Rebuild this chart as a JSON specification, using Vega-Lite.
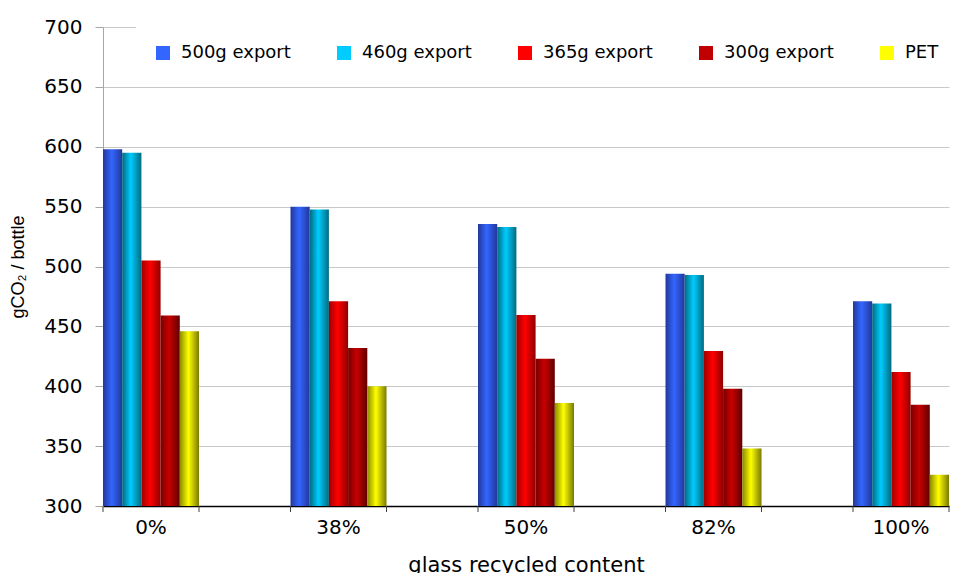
{
  "$schema": "https://vega.github.io/schema/vega-lite/v6.json",
  "width": 846,
  "height": 479,
  "autosize": "none",
  "padding": {"left": 103, "top": 27, "right": 5, "bottom": 67},
  "background": "white",
  "config": {
    "view": {"stroke": null},
    "axis": {"labelFont": "DejaVu Sans", "labelFontSize": 20, "labelColor": "#000000"}
  },
  "datasets": {
    "emissions": [
      {"content": "0%", "series": "500g export", "gco2": 598},
      {"content": "0%", "series": "460g export", "gco2": 595},
      {"content": "0%", "series": "365g export", "gco2": 505},
      {"content": "0%", "series": "300g export", "gco2": 459},
      {"content": "0%", "series": "PET", "gco2": 446},
      {"content": "38%", "series": "500g export", "gco2": 550},
      {"content": "38%", "series": "460g export", "gco2": 547.5},
      {"content": "38%", "series": "365g export", "gco2": 471},
      {"content": "38%", "series": "300g export", "gco2": 432},
      {"content": "38%", "series": "PET", "gco2": 400},
      {"content": "50%", "series": "500g export", "gco2": 535.5},
      {"content": "50%", "series": "460g export", "gco2": 533},
      {"content": "50%", "series": "365g export", "gco2": 459.5},
      {"content": "50%", "series": "300g export", "gco2": 423},
      {"content": "50%", "series": "PET", "gco2": 386},
      {"content": "82%", "series": "500g export", "gco2": 494},
      {"content": "82%", "series": "460g export", "gco2": 493},
      {"content": "82%", "series": "365g export", "gco2": 429.5},
      {"content": "82%", "series": "300g export", "gco2": 398},
      {"content": "82%", "series": "PET", "gco2": 348},
      {"content": "100%", "series": "500g export", "gco2": 471},
      {"content": "100%", "series": "460g export", "gco2": 469},
      {"content": "100%", "series": "365g export", "gco2": 412},
      {"content": "100%", "series": "300g export", "gco2": 384.5},
      {"content": "100%", "series": "PET", "gco2": 326}
    ],
    "groups": [
      {"content": "0%"}, {"content": "38%"}, {"content": "50%"}, {"content": "82%"}, {"content": "100%"}
    ]
  },
  "layer": [
    {
      "data": {"name": "emissions"},
      "mark": {"type": "bar", "clip": true},
      "encoding": {
        "x": {
          "field": "content", "type": "nominal",
          "sort": ["0%", "38%", "50%", "82%", "100%"],
          "scale": {"paddingInner": 0.488, "paddingOuter": 0},
          "axis": {
            "title": "glass recycled content",
            "titleFont": "DejaVu Sans", "titleFontSize": 21, "titleFontWeight": "normal",
            "titleColor": "#000000", "titlePadding": 17,
            "labelAngle": 0, "labelPadding": 11,
            "ticks": false, "domainColor": "#000000", "domainWidth": 1.5,
            "grid": false
          }
        },
        "xOffset": {
          "field": "series", "type": "nominal",
          "sort": ["500g export", "460g export", "365g export", "300g export", "PET"]
        },
        "y": {
          "field": "gco2", "type": "quantitative",
          "scale": {"domain": [300, 700], "nice": false, "zero": false},
          "axis": {
            "title": "gCO₂ / bottle",
            "titleFont": "Liberation Sans", "titleFontSize": 18, "titleFontWeight": "normal",
            "titleColor": "#000000", "titlePadding": 16,
            "values": [300, 350, 400, 450, 500, 550, 600, 650, 700],
            "tickSize": 8, "tickColor": "#a6a6a6", "labelPadding": 13,
            "domainColor": "#a6a6a6", "gridColor": "#c8c8c8", "grid": true
          }
        },
        "color": {
          "field": "series", "type": "nominal",
          "scale": {
            "domain": ["500g export", "460g export", "365g export", "300g export", "PET"],
            "range": ["#3366ff", "#00ccff", "#ff0000", "#c00000", "#ffff00"]
          },
          "legend": {
            "title": null,
            "orient": "none", "direction": "horizontal",
            "legendX": 33, "legendY": -1,
            "padding": 18, "fillColor": "white",
            "symbolType": "square", "symbolSize": 196, "symbolStrokeWidth": 0,
            "labelFont": "DejaVu Sans", "labelFontSize": 18, "labelColor": "#000000",
            "labelOffset": 9, "columnPadding": 44
          },
          "condition": [
            {"test": "datum.series === '500g export'", "value": {"gradient": "linear", "x1": 0, "y1": 0, "x2": 1, "y2": 0,
              "stops": [{"offset": 0, "color": "#22379a"}, {"offset": 0.45, "color": "#3366ff"}, {"offset": 1, "color": "#22379a"}]}},
            {"test": "datum.series === '460g export'", "value": {"gradient": "linear", "x1": 0, "y1": 0, "x2": 1, "y2": 0,
              "stops": [{"offset": 0, "color": "#006b80"}, {"offset": 0.45, "color": "#00ccff"}, {"offset": 1, "color": "#006b80"}]}},
            {"test": "datum.series === '365g export'", "value": {"gradient": "linear", "x1": 0, "y1": 0, "x2": 1, "y2": 0,
              "stops": [{"offset": 0, "color": "#a00000"}, {"offset": 0.45, "color": "#ff0000"}, {"offset": 1, "color": "#900000"}]}},
            {"test": "datum.series === '300g export'", "value": {"gradient": "linear", "x1": 0, "y1": 0, "x2": 1, "y2": 0,
              "stops": [{"offset": 0, "color": "#780000"}, {"offset": 0.45, "color": "#c80000"}, {"offset": 1, "color": "#600000"}]}},
            {"test": "datum.series === 'PET'", "value": {"gradient": "linear", "x1": 0, "y1": 0, "x2": 1, "y2": 0,
              "stops": [{"offset": 0, "color": "#8a8a00"}, {"offset": 0.45, "color": "#ffff00"}, {"offset": 1, "color": "#7a7a00"}]}}
          ]
        }
      }
    },
    {
      "data": {"name": "groups"},
      "mark": {"type": "rule", "color": "#404040", "strokeWidth": 1},
      "encoding": {
        "x": {"field": "content", "type": "nominal", "sort": ["0%", "38%", "50%", "82%", "100%"], "bandPosition": 0},
        "y": {"datum": 300},
        "y2": {"datum": 295}
      }
    },
    {
      "data": {"name": "groups"},
      "mark": {"type": "rule", "color": "#404040", "strokeWidth": 1},
      "encoding": {
        "x": {"field": "content", "type": "nominal", "sort": ["0%", "38%", "50%", "82%", "100%"], "bandPosition": 1},
        "y": {"datum": 300},
        "y2": {"datum": 295}
      }
    }
  ]
}
